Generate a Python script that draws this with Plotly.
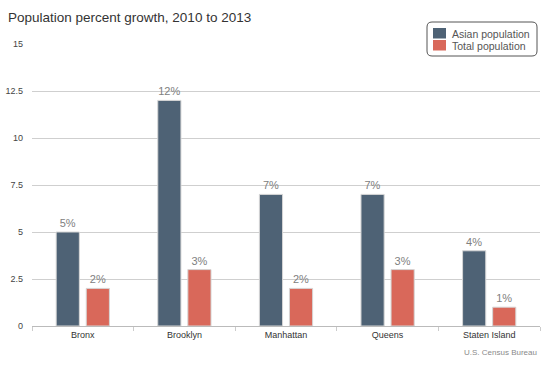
import plotly.graph_objects as go

boroughs = ["Bronx", "Brooklyn", "Manhattan", "Queens", "Staten Island"]
asian_growth = [5, 12, 7, 7, 4]
total_growth = [2, 3, 2, 3, 1]
y_ticks = [0, 2.5, 5, 7.5, 10, 12.5, 15]
y_tick_labels = ["0", "2.5", "5", "7.5", "10", "12.5", "15"]
series_names = ["Asian population", "Total population"]
series_colors = ["#4e6275", "#d9685a"]
bar_offsets = [-0.262, 0.034]
bar_width = 0.228

W, H = 550, 366
ML, MR, MT, MB = 32, 10, 44, 40
PW, PH = W - ML - MR, H - MT - MB


def px(x):
    return (x - ML) / PW


def py(y):
    return (H - MB - y) / PH


fig = go.Figure()
for name, vals, col, off in zip(series_names, [asian_growth, total_growth],
                                series_colors, bar_offsets):
    fig.add_trace(go.Bar(
        x=boroughs, y=vals, name=name, showlegend=False,
        offset=off, width=bar_width,
        marker=dict(color=col, line=dict(color="#d6d6d6", width=1)),
        texttemplate="%{y}%", textposition="outside",
        textfont=dict(color="#808080", size=11), cliponaxis=False,
    ))

# custom legend with rounded border
x0, x1, y0, y1, r = 427, 537, 22, 56, 5
path = (f"M {px(x0 + r)},{py(y0)} L {px(x1 - r)},{py(y0)} "
        f"Q {px(x1)},{py(y0)} {px(x1)},{py(y0 + r)} "
        f"L {px(x1)},{py(y1 - r)} Q {px(x1)},{py(y1)} {px(x1 - r)},{py(y1)} "
        f"L {px(x0 + r)},{py(y1)} Q {px(x0)},{py(y1)} {px(x0)},{py(y1 - r)} "
        f"L {px(x0)},{py(y0 + r)} Q {px(x0)},{py(y0)} {px(x0 + r)},{py(y0)} Z")
shapes = [dict(type="path", path=path, xref="paper", yref="paper",
               line=dict(color="#555555", width=1), fillcolor="white", layer="above")]
annotations = []
for i, (name, col) in enumerate(zip(series_names, series_colors)):
    top = 28 + i * 12
    shapes.append(dict(type="rect", xref="paper", yref="paper",
                       x0=px(433), x1=px(446), y0=py(top), y1=py(top + 10.5),
                       fillcolor=col, line=dict(width=0), layer="above"))
    annotations.append(dict(text=name, xref="paper", yref="paper",
                            x=px(450), y=py(top + 5.5), xanchor="left", yanchor="middle",
                            showarrow=False, font=dict(size=10.5, color="#555555")))

annotations.append(dict(text="Population percent growth, 2010 to 2013",
                        xref="paper", yref="paper", x=px(6), y=py(18),
                        xanchor="left", yanchor="middle", showarrow=False,
                        font=dict(size=13.5, color="#333333")))
annotations.append(dict(text="U.S. Census Bureau", xref="paper", yref="paper",
                        x=px(539), y=py(352), xanchor="right", yanchor="middle",
                        showarrow=False, font=dict(size=8, color="#8a8a8a")))

fig.update_layout(
    width=W, height=H,
    margin=dict(l=ML, r=MR, t=MT, b=MB, autoexpand=False),
    paper_bgcolor="white", plot_bgcolor="white",
    font=dict(family="Liberation Sans, Arial, sans-serif", color="#444444"),
    barmode="overlay",
    showlegend=False,
    xaxis=dict(showgrid=False, showline=True, linecolor="#bbbbbb",
               ticks="outside", tickson="boundaries", ticklen=4, tickcolor="#cccccc",
               tickfont=dict(size=9, color="#333333")),
    yaxis=dict(range=[0, 15], tickvals=y_ticks, ticktext=y_tick_labels,
               showgrid=True, gridcolor="#cfcfcf", zeroline=False,
               ticklabelstandoff=8,
               tickfont=dict(size=9, color="#444444")),
    shapes=shapes, annotations=annotations,
)

fig.write_html("out.html", config={"displayModeBar": False},
               post_script="document.body.style.margin='0';document.body.style.overflow='hidden';")
